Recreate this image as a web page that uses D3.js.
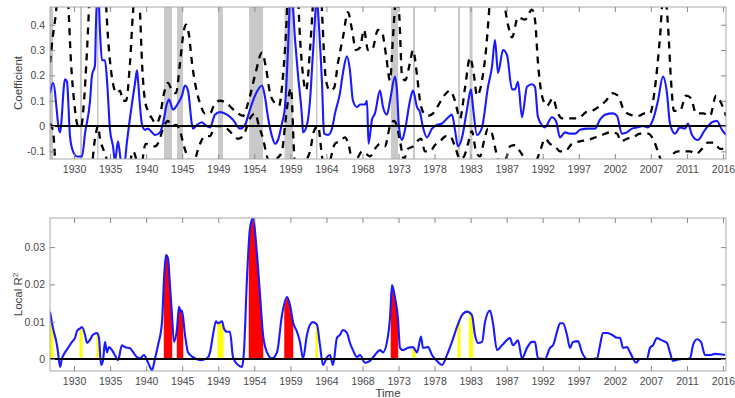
<!DOCTYPE html>
<html><head><meta charset="utf-8">
<script src="https://cdn.jsdelivr.net/npm/d3@7"></script>
<style>
body{margin:0;background:#fff}
text{font-family:"Liberation Sans",Arial,Helvetica,sans-serif}
</style>
</head><body>
<svg id="chart" width="735" height="398"></svg>
<script>
// ---------------- DATA ----------------
const tickLabels = ["1930","1935","1940","1945","1949","1954","1959","1964","1968","1973","1978","1983","1987","1992","1997","2002","2007","2011","2016"];
const tickYears = [1929.87,1934.67,1939.47,1944.27,1949.07,1953.87,1958.67,1963.47,1968.27,1973.07,1977.86,1982.66,1987.46,1992.26,1997.06,2001.86,2006.66,2011.46,2016.26];
const coefTicks = [-0.1,0,0.1,0.2,0.3,0.4];
const r2Ticks = [0,0.01,0.02,0.03];

const coefYears = [1926.67,1927.07,1928.00,1928.67,1928.93,1929.33,1929.73,1930.27,1930.93,1931.33,1932.00,1932.26,1932.66,1932.79,1933.06,1933.33,1933.59,1933.99,1934.26,1934.66,1935.06,1935.32,1935.72,1936.12,1936.52,1936.92,1937.59,1937.99,1938.25,1938.39,1938.65,1938.92,1939.32,1939.72,1940.25,1940.65,1941.31,1941.71,1942.25,1942.51,1943.04,1943.71,1944.24,1944.64,1945.04,1945.57,1945.71,1946.24,1946.90,1947.30,1947.97,1948.63,1949.30,1950.23,1951.03,1951.96,1952.63,1953.29,1953.96,1954.89,1955.29,1955.69,1956.22,1956.62,1957.02,1957.55,1957.95,1958.35,1958.75,1959.29,1959.69,1960.22,1960.35,1960.88,1961.28,1961.68,1962.21,1962.48,1962.88,1963.15,1963.68,1964.21,1964.61,1965.27,1965.67,1966.20,1966.60,1967.00,1967.54,1967.94,1968.60,1968.87,1969.07,1969.53,1969.93,1970.60,1971.00,1971.53,1971.93,1972.60,1972.86,1973.13,1973.53,1973.93,1974.59,1974.99,1975.53,1975.92,1976.32,1976.86,1977.52,1978.19,1978.85,1979.52,1980.18,1980.58,1980.98,1981.52,1982.18,1982.71,1982.98,1983.51,1984.18,1984.98,1985.51,1985.91,1986.31,1986.98,1987.51,1988.17,1988.57,1988.97,1989.50,1990.17,1990.83,1991.23,1991.63,1992.56,1993.49,1994.03,1994.56,1995.23,1995.89,1996.56,1997.23,1998.29,1999.22,1999.89,2000.55,2001.62,2002.15,2002.81,2003.48,2004.14,2004.94,2005.61,2006.27,2006.94,2007.60,2008.27,2008.80,2009.20,2009.87,2010.53,2011.20,2011.60,2012.13,2012.93,2013.86,2014.80,2015.46,2016.13,2016.66];
const coefValues = [0.13,0.17,-0.025,0.185,0.175,-0.04,-0.10,-0.12,-0.12,-0.03,0.10,0.20,0.24,0.40,0.56,0.37,0.26,0.26,0.18,-0.015,-0.08,-0.14,-0.06,-0.14,-0.16,-0.06,0.09,0.17,0.22,0.18,0.08,0.005,-0.015,-0.01,-0.025,-0.035,-0.025,0.01,0.09,0.105,0.065,0.09,0.12,0.16,0.14,0.005,-0.01,0.005,0.015,0.005,-0.005,0.045,0.055,0.045,0.025,-0.01,0.005,0.065,0.12,0.16,0.115,0.035,-0.04,-0.07,-0.055,0.01,0.075,0.30,0.56,0.34,0.20,0.035,-0.025,0.005,0.10,0.29,0.50,0.39,0.17,-0.03,-0.035,-0.01,0.05,0.13,0.21,0.275,0.22,0.10,0.075,0.085,0.085,0.10,-0.07,0.025,0.05,0.14,0.075,0.045,0.10,0.195,0.14,-0.005,-0.055,-0.015,0.10,0.14,0.075,0.055,-0.005,-0.045,-0.01,0.005,0.01,0.03,0.045,-0.015,-0.08,-0.045,0.065,0.145,0.075,-0.035,-0.005,0.155,0.235,0.34,0.21,0.30,0.28,0.145,0.145,0.175,0.035,0.155,0.165,0.155,0.035,-0.005,0.035,0.02,-0.045,-0.025,-0.03,-0.03,-0.015,-0.01,-0.01,0.025,0.045,0.05,0.04,-0.03,-0.025,-0.01,-0.005,0.0,-0.005,0.025,0.10,0.195,0.13,0.01,-0.03,-0.005,-0.01,0.01,-0.035,-0.055,-0.015,0.015,0.02,-0.015,-0.035];

const upperYears = [1926.67,1927.07,1927.47,1927.87,1928.53,1929.07,1929.47,1929.87,1930.40,1930.80,1931.20,1931.60,1932.00,1932.66,1933.33,1933.99,1934.39,1934.79,1935.19,1935.59,1935.99,1936.39,1936.79,1937.32,1937.72,1938.25,1938.65,1938.92,1939.32,1939.72,1940.25,1940.78,1941.31,1941.85,1942.38,1942.91,1943.44,1943.98,1944.51,1944.78,1945.17,1945.57,1946.11,1946.64,1947.30,1947.97,1948.63,1949.30,1950.23,1950.90,1951.70,1952.36,1953.03,1953.96,1954.89,1955.42,1955.96,1956.62,1957.15,1957.69,1958.22,1958.75,1959.42,1959.95,1960.35,1960.75,1961.28,1961.81,1962.35,1962.88,1963.41,1963.94,1964.48,1965.01,1965.67,1966.34,1966.87,1967.40,1967.94,1968.47,1969.00,1969.53,1970.33,1970.87,1971.40,1971.93,1972.33,1972.73,1973.13,1973.53,1973.93,1974.59,1974.99,1975.53,1975.92,1976.46,1976.99,1977.66,1978.32,1979.12,1979.92,1980.58,1981.25,1981.91,1982.58,1983.11,1983.51,1984.18,1984.71,1985.24,1985.78,1986.58,1987.64,1988.17,1988.97,1989.90,1990.83,1991.23,1991.63,1992.16,1992.83,1993.63,1994.16,1994.83,1995.89,1996.96,1998.02,1998.82,1999.89,2000.68,2001.48,2002.28,2002.95,2003.88,2004.94,2005.87,2006.54,2007.20,2007.87,2008.40,2008.93,2009.34,2009.73,2010.53,2011.34,2012.00,2012.67,2013.60,2014.53,2015.33,2015.86,2016.66];
const upperValues = [0.25,0.36,0.45,0.60,0.70,0.50,0.25,0.10,0.0,-0.005,0.10,0.30,0.55,0.80,0.75,0.55,0.35,0.22,0.15,0.13,0.14,0.10,0.10,0.25,0.45,0.60,0.45,0.25,0.10,0.06,0.03,0.01,0.04,0.13,0.17,0.14,0.13,0.25,0.38,0.40,0.36,0.25,0.15,0.09,0.05,0.05,0.09,0.10,0.09,0.07,0.05,0.04,0.09,0.20,0.29,0.23,0.13,0.09,0.08,0.20,0.45,0.90,0.70,0.35,0.20,0.14,0.30,0.55,0.80,0.45,0.18,0.14,0.15,0.25,0.35,0.45,0.38,0.30,0.31,0.38,0.30,0.30,0.38,0.37,0.28,0.18,0.35,0.50,0.45,0.20,0.18,0.25,0.30,0.20,0.10,0.05,0.04,0.05,0.08,0.12,0.14,0.10,0.03,0.15,0.27,0.20,0.12,0.18,0.30,0.50,0.70,0.60,0.40,0.35,0.43,0.42,0.46,0.42,0.25,0.12,0.08,0.11,0.06,0.03,0.03,0.03,0.055,0.06,0.08,0.10,0.13,0.12,0.07,0.045,0.04,0.05,0.05,0.15,0.35,0.55,0.40,0.18,0.06,0.06,0.12,0.11,0.05,0.05,0.04,0.12,0.10,0.04];

const lowerYears = [1926.67,1927.07,1927.47,1928.00,1928.67,1929.33,1930.00,1930.66,1931.33,1932.00,1932.66,1933.06,1933.33,1933.86,1934.26,1934.66,1935.32,1935.99,1936.65,1937.32,1937.72,1938.25,1938.65,1939.05,1939.45,1939.98,1940.65,1941.18,1941.71,1942.38,1942.91,1943.44,1943.98,1944.51,1945.04,1945.57,1946.11,1946.64,1947.30,1947.97,1948.63,1949.30,1950.23,1950.90,1951.70,1952.36,1953.29,1953.96,1954.49,1955.03,1955.56,1956.22,1956.89,1957.55,1957.95,1958.35,1958.75,1959.15,1959.69,1960.22,1960.75,1961.28,1961.81,1962.35,1962.88,1963.41,1963.94,1964.61,1965.27,1965.94,1966.47,1967.00,1967.54,1968.20,1968.74,1969.27,1969.93,1970.60,1971.26,1971.93,1972.46,1972.86,1973.26,1973.79,1974.33,1974.99,1975.53,1976.06,1976.59,1977.26,1977.92,1978.59,1979.39,1979.92,1980.58,1981.25,1981.78,1982.31,1982.84,1983.38,1983.91,1984.44,1984.98,1985.51,1986.04,1986.58,1987.37,1987.91,1988.57,1989.24,1990.17,1991.10,1991.90,1992.56,1993.23,1993.89,1994.56,1995.23,1996.16,1997.23,1998.29,1999.22,2000.15,2001.22,2002.15,2002.68,2003.48,2004.28,2005.21,2006.27,2006.94,2007.60,2008.27,2008.93,2009.60,2010.27,2011.07,2011.87,2012.67,2013.46,2014.26,2015.07,2015.86,2016.66];
const lowerValues = [0.01,-0.02,-0.2,-0.5,-0.4,-0.35,-0.3,-0.25,-0.2,-0.2,-0.05,0.0,-0.05,-0.10,-0.14,-0.25,-0.4,-0.4,-0.35,-0.15,-0.1,-0.15,-0.3,-0.12,-0.07,-0.075,-0.08,-0.06,-0.01,0.02,0.0,0.005,-0.02,-0.08,-0.13,-0.2,-0.12,-0.07,-0.04,-0.04,0.0,0.0,-0.01,-0.03,-0.05,-0.04,0.03,0.05,0.0,-0.05,-0.12,-0.17,-0.13,-0.1,0.0,0.1,0.15,-0.1,-0.25,-0.2,-0.14,-0.1,-0.02,0.0,-0.12,-0.2,-0.14,-0.07,-0.06,-0.045,-0.08,-0.15,-0.13,-0.1,-0.11,-0.12,-0.09,-0.07,-0.08,0.0,0.02,0.0,-0.06,-0.13,-0.09,-0.08,-0.06,-0.05,-0.1,-0.1,-0.075,-0.06,-0.04,-0.04,-0.08,-0.13,-0.12,-0.07,-0.02,-0.1,-0.12,-0.06,-0.01,-0.03,-0.1,-0.15,-0.13,-0.08,-0.075,-0.1,-0.14,-0.15,-0.1,-0.05,-0.07,-0.08,-0.1,-0.1,-0.07,-0.06,-0.055,-0.045,-0.035,-0.025,-0.03,-0.06,-0.05,-0.045,-0.03,-0.03,-0.05,-0.1,-0.15,-0.15,-0.11,-0.1,-0.1,-0.1,-0.11,-0.09,-0.065,-0.065,-0.09,-0.09];

const r2Years = [1926.67,1927.07,1927.60,1927.74,1928.00,1928.27,1928.67,1929.07,1929.60,1930.00,1930.27,1930.66,1930.93,1931.33,1931.60,1932.00,1932.39,1932.93,1933.19,1933.46,1933.73,1933.99,1934.26,1934.52,1934.92,1935.32,1935.72,1936.25,1936.65,1937.32,1937.72,1938.25,1938.65,1939.18,1939.58,1939.98,1940.25,1940.65,1941.05,1941.58,1941.85,1942.11,1942.38,1942.64,1942.91,1943.18,1943.58,1943.84,1944.11,1944.24,1944.64,1945.04,1945.71,1946.64,1947.57,1947.97,1948.37,1948.77,1949.03,1949.57,1949.83,1950.23,1950.63,1951.03,1951.70,1952.23,1952.49,1952.89,1953.29,1953.69,1954.23,1954.63,1955.03,1955.56,1956.22,1956.89,1957.55,1958.22,1958.62,1959.02,1959.55,1959.95,1960.35,1960.88,1961.28,1961.68,1962.21,1962.61,1963.01,1963.54,1963.94,1964.34,1964.87,1965.27,1965.67,1966.20,1966.60,1967.00,1967.54,1967.94,1968.60,1969.27,1969.93,1970.60,1971.00,1971.53,1971.93,1972.20,1972.60,1972.99,1973.26,1973.66,1974.33,1974.99,1975.53,1976.06,1976.32,1976.99,1977.52,1978.19,1978.85,1979.52,1980.18,1980.85,1981.52,1982.18,1982.84,1983.24,1983.64,1984.18,1984.58,1985.24,1985.64,1986.17,1986.84,1987.91,1988.30,1988.97,1989.50,1990.17,1990.83,1991.23,1991.63,1992.56,1993.23,1993.63,1994.16,1994.56,1994.96,1995.49,1995.89,1996.29,1996.96,1997.49,1998.15,1998.82,1999.49,1999.89,2000.28,2000.81,2001.48,2002.15,2002.55,2002.95,2003.48,2003.88,2004.28,2004.68,2005.21,2006.14,2006.54,2006.94,2007.47,2008.14,2008.80,2009.20,2009.60,2010.14,2010.80,2011.47,2011.87,2012.27,2012.80,2013.33,2013.86,2014.53,2015.19,2015.86,2016.53];
const r2Values = [0.0127,0.0083,0.0037,0.0018,-0.0021,0.0002,0.0018,0.0030,0.0046,0.0057,0.0075,0.0082,0.0086,0.0065,0.0043,0.0052,0.0065,0.0070,0.0057,-0.0016,-0.0003,0.0046,0.0018,0.0032,0.0024,0.0010,-0.0003,0.0037,0.0032,0.0029,0.0019,0.0005,0.0002,0.0011,-0.0003,-0.0021,-0.0030,0.0002,0.0037,0.0099,0.0216,0.0279,0.0270,0.0198,0.0118,0.0046,0.0082,0.0140,0.0127,0.0130,0.0065,0.0018,0.0005,-0.0003,0.0002,0.0018,0.0065,0.0101,0.0096,0.0101,0.0082,0.0073,0.0073,0.0005,-0.0016,-0.0021,0.0020,0.0216,0.0350,0.0378,0.0279,0.0172,0.0065,0.0018,0.0002,0.0018,0.0118,0.0166,0.0145,0.0099,0.0073,0.0046,0.0002,0.0065,0.0092,0.0099,0.0092,0.0037,-0.0016,0.0005,0.0011,-0.0016,0.0057,0.0065,0.0078,0.0070,0.0043,0.0024,0.0005,0.0011,-0.0010,-0.0005,0.0011,0.0024,0.0018,0.0046,0.0110,0.0198,0.0164,0.0110,0.0030,0.0024,0.0030,0.0032,0.0018,0.0060,0.0030,0.0032,0.0011,-0.0005,-0.0016,0.0011,0.0046,0.0086,0.0118,0.0127,0.0118,0.0065,0.0043,0.0046,0.0099,0.0130,0.0096,0.0024,0.0037,0.0056,0.0037,0.0050,0.0002,0.0030,0.0046,0.0046,0.0002,0.0000,0.0030,0.0037,0.0073,0.0096,0.0096,0.0065,0.0030,0.0046,0.0048,0.0018,0.0000,0.0000,0.0002,0.0037,0.0070,0.0070,0.0065,0.0057,0.0057,0.0030,0.0032,0.0018,0.0002,-0.0010,0.0000,0.0000,0.0030,0.0037,0.0056,0.0050,0.0043,0.0018,-0.0005,-0.0002,0.0000,0.0000,0.0002,0.0037,0.0053,0.0046,0.0011,0.0011,0.0014,0.0013,0.0011];

// significance periods (red = strong, yellow = weak)
const redSpans = [[1941.85,1942.91],[1943.58,1944.38],[1953.16,1955.03],[1957.89,1959.02],[1972.06,1972.99]];
const yellowSpans = [[1926.67,1927.07],[1930.66,1930.93],[1932.93,1933.13],[1949.03,1949.70],[1962.08,1962.28],[1974.99,1975.26],[1980.98,1981.25],[1982.51,1982.91]];

// ---------------- DRAW ----------------
const svg = d3.select("#chart");
const L = 50, R = 726;
const top1 = 7, bot1 = 159, top2 = 218, bot2 = 371;
const x = d3.scaleLinear().domain([1926.67, 2016.66]).range([L, R]);
const y1 = d3.scaleLinear().domain([-0.13, 0.47]).range([bot1, top1]);
const y2 = d3.scaleLinear().domain([-0.0032, 0.0378]).range([bot2, top2]);

const coef = coefYears.map((t,i)=>({t, v:coefValues[i]}));
const upper = upperYears.map((t,i)=>({t, v:upperValues[i]}));
const lower = lowerYears.map((t,i)=>({t, v:lowerValues[i]}));
const r2 = r2Years.map((t,i)=>({t, v:r2Values[i]}));

const defs = svg.append("defs");
defs.append("clipPath").attr("id","clip1").append("rect").attr("x",L).attr("y",top1).attr("width",R-L).attr("height",bot1-top1);
defs.append("clipPath").attr("id","clip2").append("rect").attr("x",L).attr("y",top2).attr("width",R-L).attr("height",bot2-top2);

const allSpans = redSpans.concat(yellowSpans);

// ---- top panel ----
const p1 = svg.append("g").attr("clip-path","url(#clip1)");
p1.selectAll("rect.band").data(allSpans).enter().append("rect")
  .attr("x", d=>x(d[0])).attr("width", d=>Math.max(1.5, x(d[1])-x(d[0])))
  .attr("y", top1).attr("height", bot1-top1).attr("fill","#c9c9c9");

const line1 = d3.line().x(d=>x(d.t)).y(d=>y1(d.v)).curve(d3.curveMonotoneX);
[upper, lower].forEach(s=>{
  p1.append("path").datum(s).attr("d", line1).attr("fill","none")
    .attr("stroke","#000").attr("stroke-width",2.3).attr("stroke-dasharray","7,6");
});
p1.append("path").datum(coef).attr("d", line1).attr("fill","none")
  .attr("stroke","#1a1aff").attr("stroke-width",2.1);
p1.append("line").attr("x1",L).attr("x2",R).attr("y1",y1(0)).attr("y2",y1(0))
  .attr("stroke","#000").attr("stroke-width",2);

// ---- bottom panel ----
const p2 = svg.append("g").attr("clip-path","url(#clip2)");
function interp(t){
  for(let i=0;i<r2.length-1;i++){
    if(t>=r2[i].t && t<=r2[i+1].t){
      const f=(t-r2[i].t)/(r2[i+1].t-r2[i].t);
      return r2[i].v + f*(r2[i+1].v-r2[i].v);
    }
  }
  return r2[r2.length-1].v;
}
function spanPts(s){
  const pts=[{t:s[0], v:interp(s[0])}];
  r2.forEach(d=>{ if(d.t>s[0] && d.t<s[1]) pts.push(d); });
  pts.push({t:s[1], v:interp(s[1])});
  return pts;
}
const area2 = d3.area().x(d=>x(d.t)).y0(y2(0)).y1(d=>y2(d.v));
redSpans.forEach(s=>{
  p2.append("path").datum(spanPts(s)).attr("d",area2).attr("fill","#ff0000").attr("stroke","#ff0000").attr("stroke-width",0.5);
});
yellowSpans.forEach(s=>{
  p2.append("path").datum(spanPts(s)).attr("d",area2).attr("fill","#ffff00").attr("stroke","#ffff00").attr("stroke-width",1);
});
const line2 = d3.line().x(d=>x(d.t)).y(d=>y2(d.v)).curve(d3.curveMonotoneX);
p2.append("path").datum(r2).attr("d", line2).attr("fill","none")
  .attr("stroke","#1a1aff").attr("stroke-width",2.1);
p2.append("line").attr("x1",L).attr("x2",R).attr("y1",y2(0)).attr("y2",y2(0))
  .attr("stroke","#000").attr("stroke-width",2);

// ---- axes ----
const fmtCoef = d => d===0 ? "0" : (d<0?"-":"") + Math.abs(d).toFixed(1);
const fmtR2 = d => d===0 ? "0" : d.toFixed(2);

function axes(y, t, b, yTicks, yFmt){
  const g = svg.append("g");
  g.append("rect").attr("x",L).attr("y",t).attr("width",R-L).attr("height",b-t)
    .attr("fill","none").attr("stroke","#a9a9a9").attr("stroke-width",1);
  const ax = [
    g.append("g").attr("transform",`translate(0,${b})`)
      .call(d3.axisBottom(x).tickValues(tickYears).tickFormat((d,i)=>tickLabels[i]).tickSizeInner(-5).tickSizeOuter(0).tickPadding(7)),
    g.append("g").attr("transform",`translate(0,${t})`)
      .call(d3.axisTop(x).tickValues(tickYears).tickFormat("").tickSizeInner(-5).tickSizeOuter(0)),
    g.append("g").attr("transform",`translate(${L},0)`)
      .call(d3.axisLeft(y).tickValues(yTicks).tickFormat(yFmt).tickSizeInner(-5).tickSizeOuter(0).tickPadding(5)),
    g.append("g").attr("transform",`translate(${R},0)`)
      .call(d3.axisRight(y).tickValues(yTicks).tickFormat("").tickSizeInner(-5).tickSizeOuter(0))
  ];
  ax.forEach(a=>{
    a.select(".domain").remove();
    a.selectAll(".tick line").attr("stroke","#8a8a8a");
    a.selectAll(".tick text").attr("fill","#4a4a4a").style("font-size","10.5px")
      .style("font-family",'"Liberation Sans",Arial,sans-serif');
  });
}
axes(y1, top1, bot1, coefTicks, fmtCoef);
axes(y2, top2, bot2, r2Ticks, fmtR2);

svg.append("text").attr("transform",`translate(22,${(top1+bot1)/2}) rotate(-90)`)
  .attr("text-anchor","middle").attr("fill","#404040").style("font-size","11.5px").text("Coefficient");
const lt = svg.append("text").attr("transform",`translate(22,${(top2+bot2)/2}) rotate(-90)`)
  .attr("text-anchor","middle").attr("fill","#404040").style("font-size","11.5px");
lt.append("tspan").text("Local R");
lt.append("tspan").attr("dy","-0.45em").style("font-size","8px").text("2");
svg.append("text").attr("x",388).attr("y",397).attr("text-anchor","middle")
  .attr("fill","#404040").style("font-size","11.5px").text("Time");
</script>
</body></html>
